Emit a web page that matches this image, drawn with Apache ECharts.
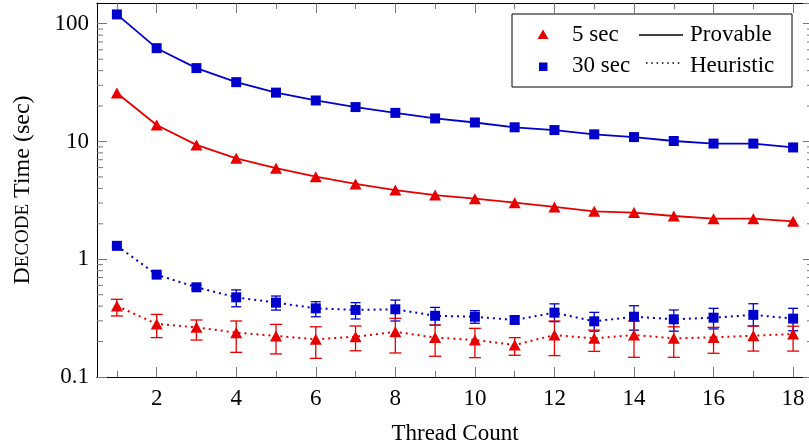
<!DOCTYPE html>
<html>
<head>
<meta charset="utf-8">
<script src="https://cdn.jsdelivr.net/npm/echarts@6/dist/echarts.min.js"></script>
<style>
  html, body { margin: 0; padding: 0; background: #fff; }
  #chart { width: 809px; height: 444px; }
</style>
</head>
<body>
<div id="chart"></div>
<script>
// thread counts
var threads = [1, 2, 3, 4, 5, 6, 7, 8, 9, 10, 11, 12, 13, 14, 15, 16, 17, 18]

// provable runs (sec)
var provable30 = [120, 62, 42, 31.9, 26, 22.3, 19.6, 17.5, 15.7, 14.5, 13.2, 12.5, 11.5, 10.9, 10.1, 9.6, 9.6, 8.9]
var provable5 = [25.8, 13.8, 9.35, 7.2, 5.93, 5.03, 4.36, 3.87, 3.51, 3.27, 3.02, 2.78, 2.55, 2.49, 2.33, 2.21, 2.21, 2.1]

// heuristic runs (sec) with error ranges
var heuristic30 = [1.30, 0.74, 0.578, 0.475, 0.428, 0.383, 0.371, 0.376, 0.331, 0.325, 0.305, 0.352, 0.297, 0.325, 0.309, 0.319, 0.337, 0.313]
var heuristic30Lo = [1.27, 0.72, 0.56, 0.395, 0.37, 0.325, 0.311, 0.299, 0.276, 0.286, 0.285, 0.295, 0.245, 0.25, 0.245, 0.256, 0.271, 0.247]
var heuristic30Hi = [1.33, 0.76, 0.60, 0.549, 0.487, 0.436, 0.428, 0.45, 0.39, 0.366, 0.325, 0.418, 0.354, 0.403, 0.371, 0.383, 0.419, 0.383]
var heuristic5 = [0.401, 0.282, 0.264, 0.238, 0.223, 0.209, 0.22, 0.242, 0.216, 0.206, 0.187, 0.227, 0.213, 0.227, 0.213, 0.217, 0.224, 0.232]
var heuristic5Lo = [0.33, 0.216, 0.206, 0.162, 0.157, 0.144, 0.167, 0.16, 0.15, 0.146, 0.153, 0.152, 0.165, 0.147, 0.147, 0.159, 0.166, 0.166]
var heuristic5Hi = [0.457, 0.34, 0.305, 0.299, 0.28, 0.267, 0.271, 0.315, 0.276, 0.259, 0.216, 0.299, 0.25, 0.299, 0.267, 0.264, 0.271, 0.27]

// ticks
var xMajorTicks = [2, 4, 6, 8, 10, 12, 14, 16, 18]
var xMinorTicks = [1, 3, 5, 7, 9, 11, 13, 15, 17]
var yMinorTicks = [0.2, 0.3, 0.4, 0.5, 0.6, 0.7, 0.8, 0.9, 2, 3, 4, 5, 6, 7, 8, 9, 20, 30, 40, 50, 60, 70, 80, 90]

var xMin = 0.5
var xMax = 18.5
var yMin = 0.1
var yMax = 150

var RED = '#e60000'
var BLUE = '#0000cc'
var FONT = 'Liberation Serif'

var myChart = echarts.init(document.getElementById('chart'))

function pairs (ys) {
  return threads.map(function (t, i) { return [t, ys[i]] })
}

function errorBars (color, capW) {
  return function (params, api) {
    var x = api.value(0)
    var lo = api.coord([x, api.value(1)])
    var hi = api.coord([x, api.value(2)])
    var style = { stroke: color, lineWidth: 1.3 }
    return {
      type: 'group',
      children: [
        { type: 'line', shape: { x1: lo[0], y1: lo[1], x2: hi[0], y2: hi[1] }, style: style },
        { type: 'line', shape: { x1: lo[0] - capW / 2, y1: lo[1], x2: lo[0] + capW / 2, y2: lo[1] }, style: style },
        { type: 'line', shape: { x1: hi[0] - capW / 2, y1: hi[1], x2: hi[0] + capW / 2, y2: hi[1] }, style: style }
      ]
    }
  }
}

function xAxisOf (pos, ticks, len, withLabel) {
  return {
    type: 'value',
    position: pos,
    min: xMin,
    max: xMax,
    axisLine: { show: true, onZero: false, lineStyle: { color: '#000', width: 1 } },
    axisTick: { show: true, inside: true, length: len, customValues: ticks, lineStyle: { color: '#777', width: 1 } },
    axisLabel: withLabel ? {
      show: true, customValues: xMajorTicks, margin: 10,
      color: '#000', fontFamily: FONT, fontSize: 23
    } : { show: false },
    splitLine: { show: false }
  }
}

var option = {
  backgroundColor: '#FFFFFF',
  animation: false,
  // frame runs a few px past the right edge of the picture, like the original
  grid: { left: 97, top: 3, width: 716, height: 374, outerBoundsMode: 'none', containLabel: false },
  xAxis: [
    Object.assign(xAxisOf('bottom', xMajorTicks, 10, true), {
      name: 'Thread Count',
      nameLocation: 'middle',
      nameGap: 45,
      nameTextStyle: { color: '#000', fontFamily: FONT, fontSize: 23 }
    }),
    xAxisOf('bottom', xMinorTicks, 6, false),
    xAxisOf('top', xMajorTicks, 10, false),
    xAxisOf('top', xMinorTicks, 6, false)
  ],
  yAxis: [
    {
      type: 'log',
      logBase: 10,
      position: 'left',
      min: yMin,
      max: yMax,
      name: '{big|D}{small|ECODE} Time (sec)',
      nameLocation: 'middle',
      nameGap: 62,
      nameTextStyle: {
        color: '#000', fontFamily: FONT, fontSize: 24,
        rich: {
          big: { fontFamily: FONT, fontSize: 24, color: '#000' },
          small: { fontFamily: FONT, fontSize: 19, color: '#000' }
        }
      },
      axisLine: { show: true, lineStyle: { color: '#000', width: 1 } },
      axisTick: { show: true, inside: true, length: 10, lineStyle: { color: '#777', width: 1 } },
      axisLabel: { margin: 8, padding: [8, 0, 0, 0], color: '#000', fontFamily: FONT, fontSize: 23, showMaxLabel: false },
      splitLine: { show: false }
    },
    {
      type: 'log',
      logBase: 10,
      position: 'right',
      min: yMin,
      max: yMax,
      axisLine: { show: true, lineStyle: { color: '#000', width: 1 } },
      axisTick: { show: true, inside: true, length: 10, lineStyle: { color: '#777', width: 1 } },
      axisLabel: { show: false },
      splitLine: { show: false }
    }
  ],
  series: [
    {
      type: 'custom',
      name: 'minor ticks',
      silent: true,
      clip: false,
      data: yMinorTicks.map(function (v) { return [xMin, v] }),
      renderItem: function (params, api) {
        var v = api.value(1)
        var l = api.coord([xMin, v])
        var r = api.coord([xMax, v])
        var style = { stroke: '#777', lineWidth: 1 }
        return {
          type: 'group',
          children: [
            { type: 'line', shape: { x1: l[0], y1: l[1], x2: l[0] + 6, y2: l[1] }, style: style },
            { type: 'line', shape: { x1: r[0] - 6, y1: r[1], x2: r[0], y2: r[1] }, style: style }
          ]
        }
      }
    },
    {
      type: 'custom',
      name: 'err30',
      silent: true,
      z: 1,
      data: threads.map(function (t, i) { return [t, heuristic30Lo[i], heuristic30Hi[i]] }),
      renderItem: errorBars(BLUE, 10)
    },
    {
      type: 'custom',
      name: 'err5',
      silent: true,
      z: 1,
      data: threads.map(function (t, i) { return [t, heuristic5Lo[i], heuristic5Hi[i]] }),
      renderItem: errorBars(RED, 12)
    },
    {
      name: 'Provable 30 sec',
      type: 'line',
      z: 3,
      data: pairs(provable30),
      symbol: 'rect',
      symbolSize: 10,
      lineStyle: { color: BLUE, width: 1.8 },
      itemStyle: { color: BLUE }
    },
    {
      name: 'Provable 5 sec',
      type: 'line',
      z: 3,
      data: pairs(provable5),
      symbol: 'triangle',
      symbolSize: [12, 11],
      lineStyle: { color: RED, width: 1.8 },
      itemStyle: { color: RED }
    },
    {
      name: 'Heuristic 30 sec',
      type: 'line',
      z: 3,
      data: pairs(heuristic30),
      symbol: 'rect',
      symbolSize: 10,
      lineStyle: { color: BLUE, width: 2, type: [2, 4] },
      itemStyle: { color: BLUE }
    },
    {
      name: 'Heuristic 5 sec',
      type: 'line',
      z: 3,
      data: pairs(heuristic5),
      symbol: 'triangle',
      symbolSize: [12, 11],
      lineStyle: { color: RED, width: 2, type: [2, 4] },
      itemStyle: { color: RED }
    }
  ],
  // legend box drawn by hand (marker-only and line-only entries)
  graphic: [
    {
      type: 'group',
      z: 100,
      children: [
        { type: 'rect', shape: { x: 512, y: 14, width: 280, height: 73 }, style: { fill: '#fff', stroke: '#000', lineWidth: 1 } },
        { type: 'polygon', shape: { points: [[543, 29.5], [548.5, 39], [537.5, 39]] }, style: { fill: RED } },
        { type: 'text', style: { x: 572, y: 35, text: '5 sec', fill: '#000', font: '23px "Liberation Serif"', verticalAlign: 'middle' } },
        { type: 'line', shape: { x1: 639, y1: 35, x2: 683, y2: 35 }, style: { stroke: '#000', lineWidth: 1.5 } },
        { type: 'text', style: { x: 690, y: 35, text: 'Provable', fill: '#000', font: '23px "Liberation Serif"', verticalAlign: 'middle' } },
        { type: 'rect', shape: { x: 539, y: 62.5, width: 8.5, height: 8.5 }, style: { fill: BLUE } },
        { type: 'text', style: { x: 572, y: 66, text: '30 sec', fill: '#000', font: '23px "Liberation Serif"', verticalAlign: 'middle' } },
        { type: 'line', shape: { x1: 646, y1: 63, x2: 683, y2: 63 }, style: { stroke: '#000', lineWidth: 1.5, lineDash: [1.5, 3.8] } },
        { type: 'text', style: { x: 690, y: 66, text: 'Heuristic', fill: '#000', font: '23px "Liberation Serif"', verticalAlign: 'middle' } }
      ]
    }
  ]
}

myChart.setOption(option)
window.onresize = myChart.resize
</script>
</body>
</html>
